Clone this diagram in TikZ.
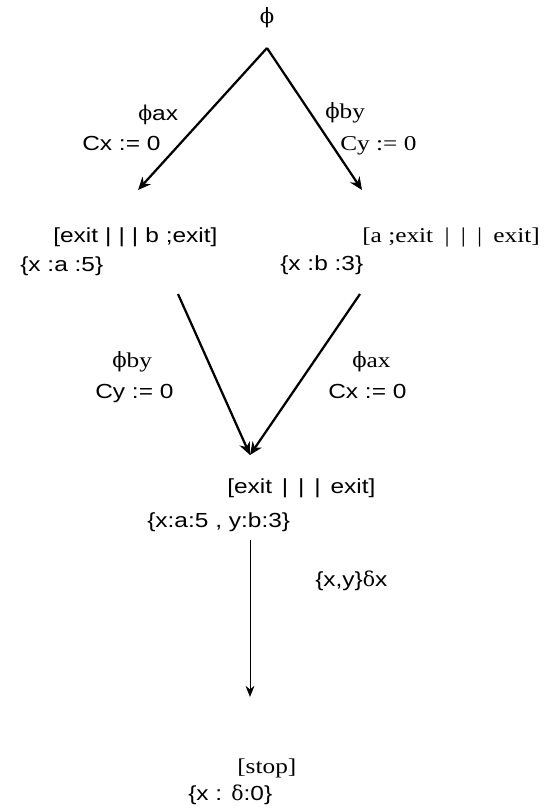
\documentclass[tikz,border=0pt]{standalone}
\usepackage{fontspec}
\setmainfont{Liberation Serif}[FakeStretch=1.2]
\newfontfamily\lsans{Liberation Sans}[FakeStretch=1.2]
\newfontfamily\greek{DejaVu Serif}
\usetikzlibrary{arrows.meta, positioning}
\newcommand{\bars}[1]{\hspace{#1}|\hspace{#1}|\hspace{#1}|\hspace{#1}}

\begin{document}
\begin{tikzpicture}[x=0.025cm, y=-0.025cm,
  lab/.style={anchor=base west, inner sep=0pt, font=\fontsize{15}{17}\selectfont},
  labsf/.style={lab, font=\fontsize{14.5}{17}\selectfont\lsans},
  arc/.style={-{Stealth[length=3.2mm, width=2.8mm]}, line width=1.6pt},
  thinarc/.style={-{Stealth[length=2.8mm, width=2.2mm]}, line width=0.7pt}]
  \useasboundingbox (0,0) rectangle (545,811);
  \node[inner sep=0pt, font=\fontsize{15}{17}\selectfont\greek] (phi) at (267,18) {ϕ};
  \coordinate (apex) at (267,48);
  \coordinate (s1in) at (138,190);
  \coordinate (s2in) at (362,190);
  \coordinate (s1out) at (178,294);
  \coordinate (s2out) at (360,294);
  \coordinate (s3in) at (250,455);
  \coordinate (s3out) at (250,540);
  \coordinate (s4in) at (250,697);
  \node[labsf] (t1a) at (138,120) {{\greek ϕ}ax};
  \node[labsf] (t1b) at (82,150)  {Cx := 0};
  \node[lab]   (t2a) at (325,118) {{\greek ϕ}by};
  \node[lab]   (t2b) at (340,150) {Cy := 0};
  \node[labsf] (s1)  at (53,242)  {[exit\bars{5pt}b ;exit]};
  \node[labsf] (s1v) at (20,271)  {\{x :a :5\}};
  \node[lab]   (s2)  at (362,242) {[a ;exit\bars{8pt}exit]};
  \node[labsf] (s2v) at (280,270) {\{x :b :3\}};
  \node[lab]   (t3a) at (112,367) {{\greek ϕ}by};
  \node[labsf] (t3b) at (95,398)  {Cy := 0};
  \node[lab]   (t4a) at (352,367) {{\greek ϕ}ax};
  \node[labsf] (t4b) at (328,398) {Cx := 0};
  \node[labsf] (s3)  at (227,493) {[exit\bars{7pt}exit]};
  \node[labsf] (s3v) at (147,527) {\{x:a:5 , y:b:3\}};
  \node[labsf] (t5)  at (315,586) {\{x,y\}{\greek δ}x};
  \node[lab]   (s4)  at (237,773) {[stop]};
  \node[labsf] (s4v) at (188,800) {\{x : {\greek δ}:0\}};
  \draw[arc] (apex) -- (s1in);
  \draw[arc] (apex) -- (s2in);
  \draw[arc] (s1out) -- (s3in);
  \draw[arc] (s2out) -- (s3in);
  \draw[thinarc] (s3out) -- (s4in);
\end{tikzpicture}
\end{document}
